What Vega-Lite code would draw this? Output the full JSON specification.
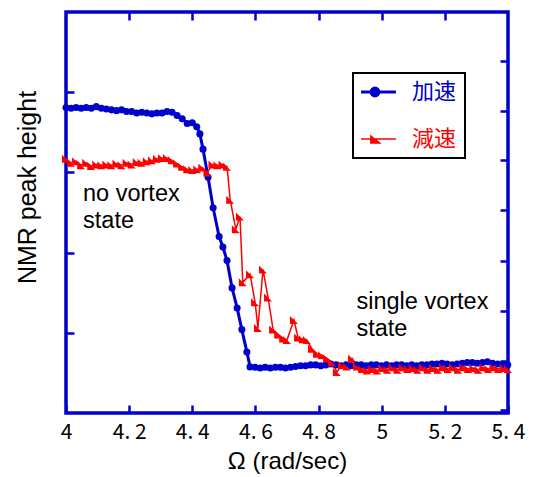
{
  "$schema": "https://vega.github.io/schema/vega-lite/v6.json",
  "width": 442,
  "height": 401,
  "autosize": {"type": "none"},
  "padding": {"left": 66, "top": 12, "right": 25, "bottom": 64},
  "background": "white",
  "config": {
    "view": {"stroke": "#0000cc", "strokeWidth": 3.5},
    "axis": {"grid": false, "domain": false, "tickColor": "#0000cc", "tickWidth": 2.5, "tickSize": -8}
  },
  "datasets": {
    "series": [
      {"s": "加速", "x": 4.000, "y": 3.81}, {"s": "加速", "x": 4.016, "y": 3.80}, {"s": "加速", "x": 4.032, "y": 3.81},
      {"s": "加速", "x": 4.048, "y": 3.80}, {"s": "加速", "x": 4.064, "y": 3.81}, {"s": "加速", "x": 4.080, "y": 3.80},
      {"s": "加速", "x": 4.096, "y": 3.82}, {"s": "加速", "x": 4.112, "y": 3.80}, {"s": "加速", "x": 4.128, "y": 3.79},
      {"s": "加速", "x": 4.144, "y": 3.78}, {"s": "加速", "x": 4.160, "y": 3.77}, {"s": "加速", "x": 4.176, "y": 3.78},
      {"s": "加速", "x": 4.192, "y": 3.76}, {"s": "加速", "x": 4.208, "y": 3.76}, {"s": "加速", "x": 4.224, "y": 3.74},
      {"s": "加速", "x": 4.240, "y": 3.75}, {"s": "加速", "x": 4.256, "y": 3.74}, {"s": "加速", "x": 4.272, "y": 3.73},
      {"s": "加速", "x": 4.288, "y": 3.74}, {"s": "加速", "x": 4.304, "y": 3.74}, {"s": "加速", "x": 4.320, "y": 3.76},
      {"s": "加速", "x": 4.336, "y": 3.75}, {"s": "加速", "x": 4.352, "y": 3.71}, {"s": "加速", "x": 4.368, "y": 3.67},
      {"s": "加速", "x": 4.384, "y": 3.61}, {"s": "加速", "x": 4.400, "y": 3.62}, {"s": "加速", "x": 4.414, "y": 3.57},
      {"s": "加速", "x": 4.424, "y": 3.48}, {"s": "加速", "x": 4.434, "y": 3.29}, {"s": "加速", "x": 4.450, "y": 2.94},
      {"s": "加速", "x": 4.466, "y": 2.56}, {"s": "加速", "x": 4.485, "y": 2.20}, {"s": "加速", "x": 4.497, "y": 2.07},
      {"s": "加速", "x": 4.510, "y": 1.90}, {"s": "加速", "x": 4.526, "y": 1.56}, {"s": "加速", "x": 4.542, "y": 1.31},
      {"s": "加速", "x": 4.557, "y": 1.04}, {"s": "加速", "x": 4.573, "y": 0.76}, {"s": "加速", "x": 4.583, "y": 0.575},
      {"s": "加速", "x": 4.599, "y": 0.57}, {"s": "加速", "x": 4.615, "y": 0.56}, {"s": "加速", "x": 4.631, "y": 0.57},
      {"s": "加速", "x": 4.647, "y": 0.56}, {"s": "加速", "x": 4.663, "y": 0.57}, {"s": "加速", "x": 4.679, "y": 0.57},
      {"s": "加速", "x": 4.695, "y": 0.56}, {"s": "加速", "x": 4.711, "y": 0.57}, {"s": "加速", "x": 4.727, "y": 0.58},
      {"s": "加速", "x": 4.743, "y": 0.59}, {"s": "加速", "x": 4.759, "y": 0.59}, {"s": "加速", "x": 4.775, "y": 0.60},
      {"s": "加速", "x": 4.791, "y": 0.60}, {"s": "加速", "x": 4.807, "y": 0.59}, {"s": "加速", "x": 4.823, "y": 0.60},
      {"s": "加速", "x": 4.839, "y": 0.61}, {"s": "加速", "x": 4.855, "y": 0.60}, {"s": "加速", "x": 4.871, "y": 0.59},
      {"s": "加速", "x": 4.887, "y": 0.60}, {"s": "加速", "x": 4.903, "y": 0.59}, {"s": "加速", "x": 4.919, "y": 0.60},
      {"s": "加速", "x": 4.935, "y": 0.60}, {"s": "加速", "x": 4.951, "y": 0.59}, {"s": "加速", "x": 4.967, "y": 0.60},
      {"s": "加速", "x": 4.983, "y": 0.60}, {"s": "加速", "x": 4.999, "y": 0.59}, {"s": "加速", "x": 5.015, "y": 0.60},
      {"s": "加速", "x": 5.031, "y": 0.59}, {"s": "加速", "x": 5.047, "y": 0.60}, {"s": "加速", "x": 5.063, "y": 0.60},
      {"s": "加速", "x": 5.079, "y": 0.59}, {"s": "加速", "x": 5.095, "y": 0.60}, {"s": "加速", "x": 5.111, "y": 0.59},
      {"s": "加速", "x": 5.127, "y": 0.60}, {"s": "加速", "x": 5.143, "y": 0.60}, {"s": "加速", "x": 5.159, "y": 0.61},
      {"s": "加速", "x": 5.175, "y": 0.61}, {"s": "加速", "x": 5.191, "y": 0.62}, {"s": "加速", "x": 5.207, "y": 0.61},
      {"s": "加速", "x": 5.223, "y": 0.60}, {"s": "加速", "x": 5.239, "y": 0.61}, {"s": "加速", "x": 5.255, "y": 0.62},
      {"s": "加速", "x": 5.271, "y": 0.63}, {"s": "加速", "x": 5.287, "y": 0.63}, {"s": "加速", "x": 5.303, "y": 0.62},
      {"s": "加速", "x": 5.319, "y": 0.63}, {"s": "加速", "x": 5.335, "y": 0.64}, {"s": "加速", "x": 5.351, "y": 0.62},
      {"s": "加速", "x": 5.367, "y": 0.61}, {"s": "加速", "x": 5.383, "y": 0.60}, {"s": "加速", "x": 5.399, "y": 0.60},
      {"s": "減速", "x": 4.000, "y": 3.17}, {"s": "減速", "x": 4.016, "y": 3.12}, {"s": "減速", "x": 4.032, "y": 3.14},
      {"s": "減速", "x": 4.048, "y": 3.09}, {"s": "減速", "x": 4.064, "y": 3.12}, {"s": "減速", "x": 4.080, "y": 3.08},
      {"s": "減速", "x": 4.096, "y": 3.10}, {"s": "減速", "x": 4.112, "y": 3.09}, {"s": "減速", "x": 4.128, "y": 3.10},
      {"s": "減速", "x": 4.144, "y": 3.09}, {"s": "減速", "x": 4.160, "y": 3.11}, {"s": "減速", "x": 4.176, "y": 3.09},
      {"s": "減速", "x": 4.192, "y": 3.12}, {"s": "減速", "x": 4.208, "y": 3.10}, {"s": "減速", "x": 4.224, "y": 3.13},
      {"s": "減速", "x": 4.240, "y": 3.12}, {"s": "減速", "x": 4.256, "y": 3.14}, {"s": "減速", "x": 4.272, "y": 3.15},
      {"s": "減速", "x": 4.288, "y": 3.17}, {"s": "減速", "x": 4.304, "y": 3.18}, {"s": "減速", "x": 4.320, "y": 3.18},
      {"s": "減速", "x": 4.336, "y": 3.15}, {"s": "減速", "x": 4.352, "y": 3.11}, {"s": "減速", "x": 4.368, "y": 3.07},
      {"s": "減速", "x": 4.384, "y": 3.04}, {"s": "減速", "x": 4.400, "y": 3.03}, {"s": "減速", "x": 4.416, "y": 3.04},
      {"s": "減速", "x": 4.432, "y": 3.06}, {"s": "減速", "x": 4.448, "y": 3.00}, {"s": "減速", "x": 4.464, "y": 3.10},
      {"s": "減速", "x": 4.480, "y": 3.09}, {"s": "減速", "x": 4.496, "y": 3.10}, {"s": "減速", "x": 4.510, "y": 3.07},
      {"s": "減速", "x": 4.520, "y": 2.66}, {"s": "減速", "x": 4.538, "y": 2.29}, {"s": "減速", "x": 4.551, "y": 2.45},
      {"s": "減速", "x": 4.560, "y": 1.63}, {"s": "減速", "x": 4.583, "y": 1.73}, {"s": "減速", "x": 4.599, "y": 1.38},
      {"s": "減速", "x": 4.608, "y": 1.06}, {"s": "減速", "x": 4.624, "y": 1.79}, {"s": "減速", "x": 4.640, "y": 1.44},
      {"s": "減速", "x": 4.656, "y": 1.04}, {"s": "減速", "x": 4.672, "y": 0.98}, {"s": "減速", "x": 4.688, "y": 0.93},
      {"s": "減速", "x": 4.700, "y": 0.91}, {"s": "減速", "x": 4.722, "y": 1.16}, {"s": "減速", "x": 4.735, "y": 0.94},
      {"s": "減速", "x": 4.750, "y": 0.92}, {"s": "減速", "x": 4.763, "y": 0.91}, {"s": "減速", "x": 4.779, "y": 0.80},
      {"s": "減速", "x": 4.795, "y": 0.74}, {"s": "減速", "x": 4.811, "y": 0.72}, {"s": "減速", "x": 4.827, "y": 0.68},
      {"s": "減速", "x": 4.843, "y": 0.63}, {"s": "減速", "x": 4.858, "y": 0.51}, {"s": "減速", "x": 4.874, "y": 0.60},
      {"s": "減速", "x": 4.890, "y": 0.58}, {"s": "減速", "x": 4.906, "y": 0.68}, {"s": "減速", "x": 4.922, "y": 0.58},
      {"s": "減速", "x": 4.938, "y": 0.55}, {"s": "減速", "x": 4.954, "y": 0.53}, {"s": "減速", "x": 4.970, "y": 0.55},
      {"s": "減速", "x": 4.986, "y": 0.53}, {"s": "減速", "x": 5.002, "y": 0.56}, {"s": "減速", "x": 5.018, "y": 0.54},
      {"s": "減速", "x": 5.034, "y": 0.57}, {"s": "減速", "x": 5.050, "y": 0.54}, {"s": "減速", "x": 5.066, "y": 0.57},
      {"s": "減速", "x": 5.082, "y": 0.55}, {"s": "減速", "x": 5.098, "y": 0.56}, {"s": "減速", "x": 5.114, "y": 0.54},
      {"s": "減速", "x": 5.130, "y": 0.57}, {"s": "減速", "x": 5.146, "y": 0.54}, {"s": "減速", "x": 5.162, "y": 0.56},
      {"s": "減速", "x": 5.178, "y": 0.54}, {"s": "減速", "x": 5.194, "y": 0.57}, {"s": "減速", "x": 5.210, "y": 0.55},
      {"s": "減速", "x": 5.226, "y": 0.57}, {"s": "減速", "x": 5.242, "y": 0.54}, {"s": "減速", "x": 5.258, "y": 0.57},
      {"s": "減速", "x": 5.274, "y": 0.55}, {"s": "減速", "x": 5.290, "y": 0.56}, {"s": "減速", "x": 5.306, "y": 0.54},
      {"s": "減速", "x": 5.322, "y": 0.57}, {"s": "減速", "x": 5.338, "y": 0.55}, {"s": "減速", "x": 5.354, "y": 0.57},
      {"s": "減速", "x": 5.370, "y": 0.55}, {"s": "減速", "x": 5.386, "y": 0.56}, {"s": "減速", "x": 5.400, "y": 0.55}
    ],
    "notes": [
      {"label": ["no vortex", "state"], "x": 4.054, "y": 2.73},
      {"label": ["single vortex", "state"], "x": 4.92, "y": 1.38}
    ]
  },
  "layer": [
    {
      "data": {"name": "series"},
      "transform": [{"filter": "datum.s === '加速'"}],
      "mark": {"type": "line", "strokeWidth": 3},
      "encoding": {
        "x": {
          "field": "x", "type": "quantitative",
          "scale": {"domain": [4, 5.4], "nice": false, "zero": false},
          "axis": {
            "orient": "bottom",
            "values": [4, 4.2, 4.4, 4.6, 4.8, 5, 5.2, 5.4],
            "labelExpr": "replace(toString(datum.value), '.', '. ')",
            "labelFont": "Noto Sans CJK JP", "labelFontSize": 21, "labelColor": "black",
            "labelPadding": 16, "labelFlush": false, "labelOverlap": false,
            "title": "Ω (rad/sec)", "titleFont": "Liberation Sans", "titleFontSize": 24,
            "titleFontWeight": "normal", "titleColor": "black", "titlePadding": 7
          }
        },
        "y": {
          "field": "y", "type": "quantitative",
          "scale": {"domain": [0, 5], "nice": false},
          "axis": {
            "orient": "left",
            "values": [1, 2, 3, 4],
            "labels": false,
            "title": "NMR peak height", "titleFont": "Liberation Sans", "titleFontSize": 25,
            "titleFontWeight": "normal", "titleColor": "black", "titlePadding": 24,
            "titleY": 175
          }
        },
        "color": {
          "field": "s", "type": "nominal",
          "scale": {"domain": ["加速", "減速"], "range": ["#0000cc", "#ff0000"]},
          "legend": {
            "title": null,
            "orient": "none", "legendX": 287, "legendY": 61,
            "fillColor": "white", "strokeColor": "black",
            "padding": 8, "rowPadding": 25, "clipHeight": 22,
            "symbolSize": 2116, "labelOffset": 29,
            "labelFont": "Noto Sans CJK JP", "labelFontSize": 22,
            "encode": {
              "legend": {"update": {"strokeWidth": {"value": 2}}},
              "symbols": {
                "update": {
                  "shape": {"signal": "datum.value === '加速' ? 'M-0.96,0L1.04,0M-0.04,0A0.17,0.17,0,1,1,0.3,0A0.17,0.17,0,1,1,-0.04,0Z' : 'M-0.96,0L1.04,0M-0.05,-0.13L-0.05,0.17L0.33,0.17Z'"},
                  "fill": {"signal": "datum.value === '加速' ? '#0000cc' : '#ff0000'"},
                  "stroke": {"signal": "datum.value === '加速' ? '#0000cc' : '#ff0000'"},
                  "strokeWidth": {"signal": "datum.value === '加速' ? 3 : 1.5"},
                  "opacity": {"value": 1}
                }
              },
              "labels": {
                "update": {"fill": {"signal": "datum.value === '加速' ? '#0000cc' : '#ff0000'"}}
              }
            }
          }
        }
      }
    },
    {
      "data": {"name": "series"},
      "transform": [{"filter": "datum.s === '減速'"}],
      "mark": {"type": "line", "strokeWidth": 1.5},
      "encoding": {
        "x": {"field": "x", "type": "quantitative", "axis": null},
        "y": {"field": "y", "type": "quantitative", "axis": null},
        "color": {"field": "s", "type": "nominal"}
      }
    },
    {
      "data": {"name": "series"},
      "transform": [{"filter": "datum.s === '加速'"}],
      "mark": {"type": "point", "filled": true, "opacity": 1, "shape": "circle", "size": 50, "color": "#0000cc"},
      "encoding": {
        "x": {"field": "x", "type": "quantitative", "axis": null},
        "y": {"field": "y", "type": "quantitative", "axis": null}
      }
    },
    {
      "data": {"name": "series"},
      "transform": [{"filter": "datum.s === '減速'"}],
      "mark": {"type": "point", "filled": true, "opacity": 1, "shape": "M-1,-1L-1,1L1,1Z", "size": 64, "color": "#ff0000"},
      "encoding": {
        "x": {"field": "x", "type": "quantitative", "axis": null},
        "y": {"field": "y", "type": "quantitative", "axis": null}
      }
    },
    {
      "data": {"name": "notes"},
      "mark": {"type": "text", "align": "left", "baseline": "middle", "font": "Liberation Sans", "fontSize": 23.5, "lineHeight": 27, "color": "black"},
      "encoding": {
        "text": {"field": "label", "type": "nominal"},
        "x": {
          "field": "x", "type": "quantitative",
          "axis": {"orient": "top", "values": [4.2, 4.4, 4.6, 4.8, 5, 5.2], "labels": false, "title": null}
        },
        "y": {
          "field": "y", "type": "quantitative",
          "axis": {"orient": "right", "values": [0.04, 0.65, 1.275, 1.9, 2.525, 3.15, 3.76, 4.39], "labels": false, "title": null}
        }
      }
    }
  ],
  "resolve": {"axis": {"x": "independent", "y": "independent"}}
}
